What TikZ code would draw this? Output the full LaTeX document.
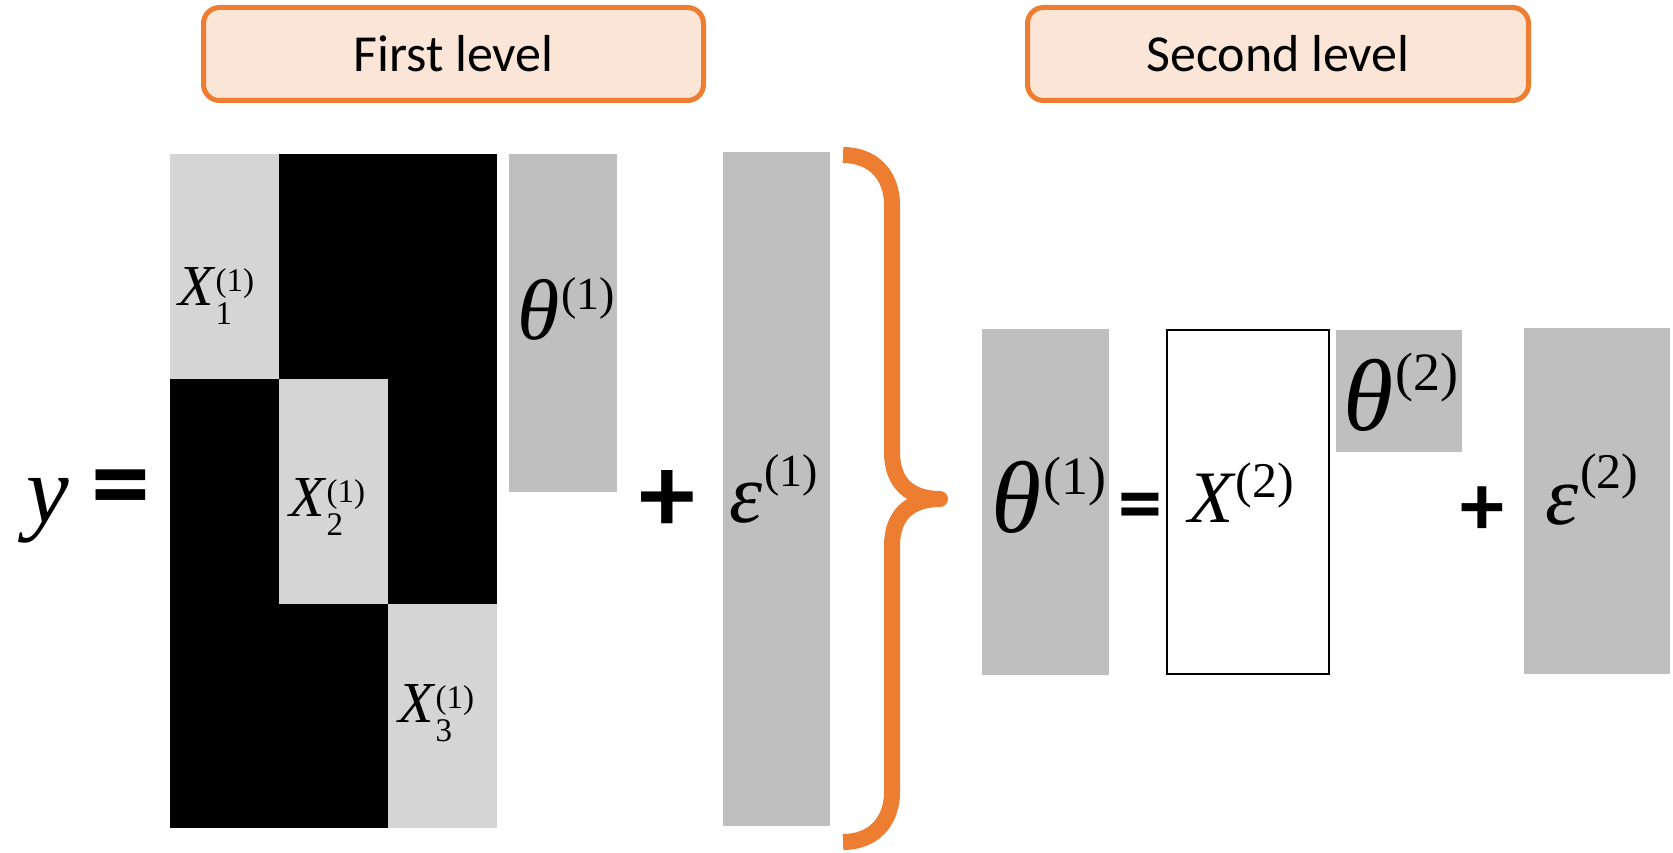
\documentclass[tikz,border=0pt]{standalone}
\usepackage{fontspec}
\setmainfont{Liberation Serif}
\newfontfamily\calib{Carlito}
\definecolor{orng}{HTML}{ED7D31}
\definecolor{peach}{HTML}{FBE5D6}
\definecolor{barg}{HTML}{BFBFBF}
\definecolor{cellg}{HTML}{D5D5D5}
% #1 base size, #2 script size, #3 base, #4 sup, #5 raise, #6 sub, #7 lower
\newcommand{\Lab}[7]{{\fontsize{#1}{#1}\selectfont\itshape #3}\kern2pt%
{\fontsize{#2}{#2}\selectfont\rlap{\raisebox{-#7}{#6}}\raisebox{#5}{#4}}}
\begin{document}
\begin{tikzpicture}[x=1pt,y=-1pt,
  levelbox/.style={draw=orng, fill=peach, line width=5pt, rounded corners=16pt,
    inner sep=0pt, font=\calib\fontsize{52}{52}\selectfont},
  bar/.style={fill=barg, draw=none},
  lab/.style={inner sep=0pt, anchor=base west},
  opsym/.style={inner sep=0pt},
  bracestyle/.style={draw=orng, line width=16pt, line join=round}
]
\useasboundingbox (0,0) rectangle (1673,853);

% level boxes
\node[levelbox, minimum width=500pt, minimum height=93pt] (first) at (453.5,54) {First level};
\node[levelbox, minimum width=501pt, minimum height=93pt] (second) at (1278,54) {Second level};

% first level matrix
\fill[black] (170,154) rectangle (497,828);
\fill[cellg] (170,154) rectangle (279,379);
\fill[cellg] (279,379) rectangle (388,604);
\fill[cellg] (388,604) rectangle (497,828);

% bars
\fill[barg] (509,154) rectangle (617,492);
\fill[barg] (723,152) rectangle (830,826);
\fill[barg] (982,329) rectangle (1109,675);
\draw[black, line width=2.5pt, fill=white] (1167,330) rectangle (1329,674);
\fill[barg] (1336,330) rectangle (1462,452);
\fill[barg] (1524,328) rectangle (1670,674);

% brace
\draw[bracestyle] (843,155) .. controls (873,155) and (892,175) .. (892,205)
  -- (892,452) .. controls (892,485) and (912,499) .. (940,499)
  .. controls (912,499) and (892,513) .. (892,546)
  -- (892,792) .. controls (892,822) and (873,842) .. (843,842);

% symbols
\node[lab] (y) at (26,522) {\fontsize{96}{96}\selectfont\itshape y};
\node[opsym, font=\calib\bfseries\fontsize{118}{118}\selectfont] (eq1) at (121,496) {=};
\node[opsym, font=\calib\bfseries\fontsize{112}{112}\selectfont] (plus1) at (667,501) {+};
\node[opsym, font=\calib\bfseries\fontsize{88}{88}\selectfont] (eq2) at (1140,513) {=};
\node[opsym, font=\calib\bfseries\fontsize{88}{88}\selectfont] (plus2) at (1482,511) {+};

% labels
\node[lab] (x1) at (178,305) {\Lab{58}{33}{X}{(1)}{14pt}{1}{19pt}};
\node[lab] (x2) at (289,516) {\Lab{58}{33}{X}{(1)}{14pt}{2}{19pt}};
\node[lab] (x3) at (398,722) {\Lab{58}{33}{X}{(1)}{14pt}{3}{19pt}};
\node[lab] (th1) at (517,339) {\Lab{86}{46}{θ}{(1)}{30pt}{}{0pt}};
\node[lab] (ep1) at (729,522) {\Lab{84}{46}{ε}{(1)}{36pt}{}{0pt}};
\node[lab] (th1b) at (991,532) {\Lab{102}{54}{θ}{(1)}{38pt}{}{0pt}};
\node[lab] (x2b) at (1188,522) {\Lab{74}{50}{X}{(2)}{25pt}{}{0pt}};
\node[lab] (th2) at (1343,430) {\Lab{102}{54}{θ}{(2)}{40pt}{}{0pt}};
\node[lab] (ep2) at (1545,524) {\Lab{84}{50}{ε}{(2)}{36pt}{}{0pt}};
\end{tikzpicture}
\end{document}
